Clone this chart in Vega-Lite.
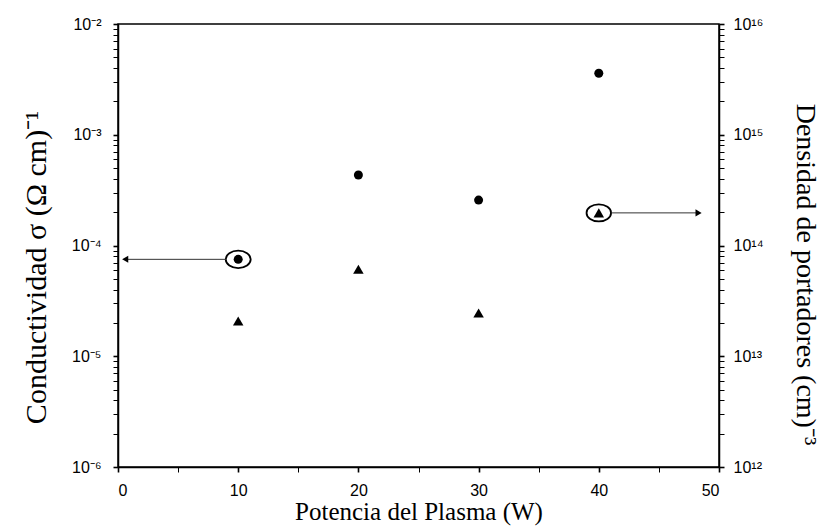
{
  "$schema": "https://vega.github.io/schema/vega-lite/v6.json",
  "width": 601,
  "height": 443,
  "autosize": {"type": "none"},
  "padding": {"left": 118, "top": 24, "right": 105, "bottom": 62},
  "background": "white",
  "config": {
    "view": {"stroke": "black", "strokeWidth": 1.5},
    "axis": {
      "grid": false,
      "domainColor": "black",
      "domainWidth": 1.5,
      "tickColor": "black",
      "tickWidth": 1.2,
      "ticks": true,
      "labelColor": "black",
      "titleColor": "black",
      "labelFont": "Liberation Sans",
      "labelFontSize": 16,
      "titleFont": "Liberation Serif",
      "titleFontWeight": "normal"
    }
  },
  "datasets": {
    "conductividad": [
      {"potencia": 10, "sigma": 7.5e-5},
      {"potencia": 20, "sigma": 4.33e-4},
      {"potencia": 30, "sigma": 2.57e-4},
      {"potencia": 40, "sigma": 3.59e-3}
    ],
    "densidad": [
      {"potencia": 10, "n": 2.08e13},
      {"potencia": 20, "n": 6.1e13},
      {"potencia": 30, "n": 2.46e13},
      {"potencia": 40, "n": 1.97e14}
    ],
    "flecha_cond": [{"potencia": 0.6, "potencia_fin": 9.0, "sigma": 7.5e-5}],
    "flecha_dens": [{"potencia": 48.3, "potencia_fin": 41.1, "n": 1.97e14}]
  },
  "encoding": {
    "x": {
      "field": "potencia",
      "type": "quantitative",
      "scale": {"domain": [0, 50], "nice": false, "zero": false},
      "axis": {
        "title": "Potencia del Plasma (W)",
        "titleFontSize": 25,
        "titlePadding": 1,
        "values": [0, 5, 10, 15, 20, 25, 30, 35, 40, 45, 50],
        "labelExpr": "datum.value % 10 == 0 ? datum.label : ''",
        "tickSize": 5,
        "tickWidth": {"condition": {"test": "datum.value % 10 == 0", "value": 1.6}, "value": 1},
        "labelPadding": 10
      }
    }
  },
  "layer": [
    {
      "encoding": {
        "y": {
          "field": "sigma",
          "type": "quantitative",
          "scale": {"type": "log", "domain": [1e-6, 1e-2], "nice": false},
          "axis": {
            "orient": "left",
            "title": "Conductividad σ (Ω cm)⁻¹",
            "titleFontSize": 30,
            "titleAngle": -90,
            "titleX": -73,
            "titleY": 243,
            "titleAlign": "center",
            "titleBaseline": "alphabetic",
            "tickCount": 40,
            "labelOverlap": false,
            "labelExpr": "abs(log(datum.value)/LN10 - round(log(datum.value)/LN10)) < 0.001 ? '10⁻' + substring('⁰¹²³⁴⁵⁶⁷⁸⁹', -round(log(datum.value)/LN10), -round(log(datum.value)/LN10) + 1) : ''",
            "tickSize": 5,
            "tickWidth": {"condition": {"test": "abs(log(datum.value)/LN10 - round(log(datum.value)/LN10)) < 0.001", "value": 1.6}, "value": 1},
            "labelPadding": 12
          }
        }
      },
      "layer": [
        {
          "data": {"name": "conductividad"},
          "mark": {"type": "point", "shape": "circle", "filled": true, "size": 81, "color": "black", "opacity": 1}
        },
        {
          "data": {"name": "conductividad"},
          "transform": [{"filter": "datum.potencia == 10"}],
          "mark": {"type": "point", "shape": "M -1 0 A 1 0.7 0 1 0 1 0 A 1 0.7 0 1 0 -1 0 Z", "filled": false, "size": 625, "stroke": "black", "strokeWidth": 1.8, "opacity": 1}
        },
        {
          "data": {"name": "flecha_cond"},
          "mark": {"type": "rule", "color": "#333333", "strokeWidth": 1},
          "encoding": {"x2": {"field": "potencia_fin"}}
        },
        {
          "data": {"name": "flecha_cond"},
          "mark": {"type": "point", "shape": "triangle-left", "filled": true, "size": 50, "color": "black", "opacity": 1}
        }
      ]
    },
    {
      "encoding": {
        "y": {
          "field": "n",
          "type": "quantitative",
          "scale": {"type": "log", "domain": [1e12, 1e16], "nice": false},
          "axis": {
            "orient": "right",
            "title": "Densidad de portadores (cm)⁻³",
            "titleFontSize": 28,
            "titleAngle": 90,
            "titleX": 77,
            "titleY": 250,
            "titleAlign": "center",
            "titleBaseline": "alphabetic",
            "tickCount": 40,
            "labelOverlap": false,
            "labelExpr": "abs(log(datum.value)/LN10 - round(log(datum.value)/LN10)) < 0.001 ? '10¹' + substring('⁰¹²³⁴⁵⁶⁷⁸⁹', round(log(datum.value)/LN10) - 10, round(log(datum.value)/LN10) - 9) : ''",
            "tickSize": 5,
            "tickWidth": {"condition": {"test": "abs(log(datum.value)/LN10 - round(log(datum.value)/LN10)) < 0.001", "value": 1.6}, "value": 1},
            "labelPadding": 9
          }
        }
      },
      "layer": [
        {
          "data": {"name": "densidad"},
          "mark": {"type": "point", "shape": "triangle-up", "filled": true, "size": 110, "color": "black", "opacity": 1}
        },
        {
          "data": {"name": "densidad"},
          "transform": [{"filter": "datum.potencia == 40"}],
          "mark": {"type": "point", "shape": "M -1 0 A 1 0.7 0 1 0 1 0 A 1 0.7 0 1 0 -1 0 Z", "filled": false, "size": 600, "stroke": "black", "strokeWidth": 1.8, "opacity": 1}
        },
        {
          "data": {"name": "flecha_dens"},
          "mark": {"type": "rule", "color": "#333333", "strokeWidth": 1},
          "encoding": {"x2": {"field": "potencia_fin"}}
        },
        {
          "data": {"name": "flecha_dens"},
          "mark": {"type": "point", "shape": "triangle-right", "filled": true, "size": 50, "color": "black", "opacity": 1}
        }
      ]
    }
  ],
  "resolve": {"scale": {"y": "independent"}}
}
